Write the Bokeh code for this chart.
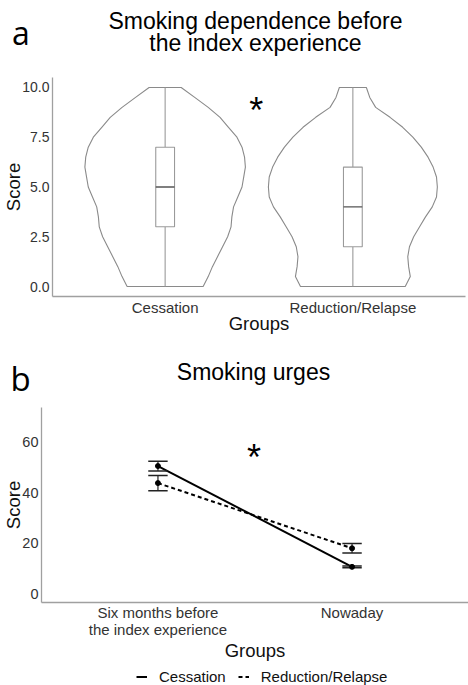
import numpy as np
from bokeh.plotting import figure
from bokeh.models import Range1d, FixedTicker, Legend, LegendItem
from bokeh.core.properties import value
from bokeh.layouts import column
from bokeh.embed import file_html
from bokeh.resources import INLINE

# ---------------- data: panel a ----------------
groups_a = ["Cessation", "Reduction/Relapse"]
violin_levels = [0.0, 0.5, 1.0, 1.5, 2.0, 2.5, 3.0, 3.5, 4.0, 4.5, 5.0,
                 5.5, 6.0, 6.5, 7.0, 7.5, 8.0, 8.5, 9.0, 9.5, 10.0]
dens_cessation = [0.45, 0.51, 0.56, 0.62, 0.68, 0.74, 0.78, 0.79, 0.81, 0.86, 0.91,
                  0.93, 0.95, 0.94, 0.91, 0.85, 0.75, 0.65, 0.51, 0.35, 0.19]
dens_reduction = [0.62, 0.68, 0.66, 0.65, 0.67, 0.72, 0.79, 0.86, 0.94, 0.99, 1.00,
                  0.99, 0.95, 0.89, 0.81, 0.71, 0.59, 0.44, 0.27, 0.20, 0.16]
box_min = [0, 0]
box_q1 = [3, 2]
box_median = [5, 4]
box_q3 = [7, 6]
box_max = [10, 10]
yticks_a = [0, 2.5, 5, 7.5, 10]
title_a = ["Smoking dependence before", "the index experience"]

# ---------------- data: panel b ----------------
times_b = ["Six months before\nthe index experience", "Nowaday"]
series_b = ["Cessation", "Reduction/Relapse"]
cess_mean = [50.4, 10.8]
cess_se = [1.9, 0.35]
red_mean = [43.7, 18.1]
red_se = [3.0, 1.9]
yticks_b = [0, 20, 40, 60]
title_b = "Smoking urges"

FONT = "Liberation Sans"
AXIS_COL = "#a0a0a0"
TICK_COL = "#333333"
W = 468


def style(p):
    p.xgrid.visible = False
    p.ygrid.visible = False
    p.outline_line_color = None
    p.background_fill_color = "white"
    p.border_fill_color = "white"
    for ax in (p.xaxis[0], p.yaxis[0]):
        ax.axis_line_color = AXIS_COL
        ax.axis_line_width = 1.3
        ax.major_tick_line_color = None
        ax.minor_tick_line_color = None
        ax.major_tick_out = 0
        ax.major_tick_in = 0
        ax.major_label_text_font = FONT
        ax.major_label_text_color = TICK_COL
        ax.axis_label_text_font = FONT
        ax.axis_label_text_font_style = "normal"
        ax.axis_label_text_color = "#111111"
        ax.axis_label_text_font_size = "18.5px"


def strip_fig(h, xr, yr):
    # blank strip (no axes) used to hold panel letters, titles and the legend
    t = figure(width=W, height=h, output_backend="svg", toolbar_location=None,
               x_range=xr, y_range=yr, x_axis_location=None, y_axis_location=None,
               min_border=0, min_border_left=0, min_border_right=0,
               min_border_top=0, min_border_bottom=0, frame_align=False)
    t.grid.visible = False
    t.outline_line_color = None
    t.background_fill_color = "white"
    t.border_fill_color = "white"
    return t


# ================= title strip a =================
ta = strip_fig(77, Range1d(0, W), Range1d(77, 0))
ta.text(x=[255, 255], y=[20, 42.5], text=title_a, text_font=value(FONT),
        text_font_size="23px", text_align="center", text_baseline="alphabetic",
        text_color="black")
ta.text(x=[11.5], y=[32], text=["a"], text_font=value("Open Sans"),
        text_font_size="32px", text_align="left", text_baseline="alphabetic",
        text_color="black")

# ================= panel a =================
pa = figure(width=W, height=263, output_backend="svg", toolbar_location=None,
            x_range=Range1d(0.4, 2.6), y_range=Range1d(-0.5, 10.5), frame_align=False,
            min_border_left=52, min_border_right=3, min_border_top=0, min_border_bottom=44)
style(pa)
pa.xaxis.ticker = FixedTicker(ticks=[1, 2])
pa.xaxis.major_label_overrides = {1: groups_a[0], 2: groups_a[1]}
pa.yaxis.ticker = FixedTicker(ticks=yticks_a)
pa.yaxis.major_label_overrides = {v: "%.1f" % v for v in yticks_a}
pa.xaxis.major_label_text_font_size = "15px"
pa.yaxis.major_label_text_font_size = "14px"
pa.yaxis.major_label_standoff = 3
pa.xaxis.major_label_standoff = 2
pa.xaxis.axis_label = "Groups"
pa.xaxis.axis_label_standoff = -6
pa.yaxis.axis_label = "Score"
pa.yaxis.axis_label_standoff = -5

VW = 0.45
BW = 0.05
for i, dens in enumerate([dens_cessation, dens_reduction]):
    c = i + 1
    d = np.array(dens)
    lv = np.array(violin_levels)
    xs = np.concatenate([c - VW * d, (c + VW * d)[::-1]])
    ys = np.concatenate([lv, lv[::-1]])
    pa.patch(xs, ys, fill_color="white", line_color="#8a8a8a", line_width=1.1)
    pa.segment(x0=[c, c], y0=[box_min[i], box_q3[i]], x1=[c, c], y1=[box_q1[i], box_max[i]],
               line_color="#9a9a9a", line_width=1.1)
    pa.quad(left=[c - BW], right=[c + BW], bottom=[box_q1[i]], top=[box_q3[i]],
            fill_color="white", line_color="#9a9a9a", line_width=1.1)
    pa.segment(x0=[c - BW], y0=[box_median[i]], x1=[c + BW], y1=[box_median[i]],
               line_color="#555555", line_width=1.4)

pa.text(x=[1.485], y=[8.85], text=["*"], text_font=value(FONT), text_font_size="36px",
        text_align="center", text_baseline="middle", text_color="black")

# ================= title strip b =================
tb = strip_fig(67, Range1d(0, W), Range1d(67, 0))
tb.text(x=[253], y=[31.7], text=[title_b], text_font=value(FONT),
        text_font_size="23px", text_align="center", text_baseline="alphabetic",
        text_color="black")
tb.text(x=[10], y=[38], text=["b"], text_font=value("Open Sans"),
        text_font_size="33px", text_align="left", text_baseline="alphabetic",
        text_color="black")

# ================= panel b =================
pb = figure(width=W, height=257, output_backend="svg", toolbar_location=None,
            x_range=Range1d(0.4, 2.6), y_range=Range1d(-3.2, 73.4), frame_align=False,
            min_border_left=41, min_border_right=0, min_border_top=0, min_border_bottom=57)
style(pb)
pb.xaxis.ticker = FixedTicker(ticks=[1, 2])
pb.xaxis.major_label_overrides = {1: times_b[0], 2: times_b[1]}
pb.yaxis.ticker = FixedTicker(ticks=yticks_b)
pb.xaxis.major_label_text_font_size = "15px"
pb.yaxis.major_label_text_font_size = "14.5px"
pb.yaxis.major_label_standoff = 3
pb.xaxis.major_label_standoff = 1
pb.xaxis.major_label_text_line_height = 1.05
pb.xaxis.axis_label = "Groups"
pb.xaxis.axis_label_standoff = -1
pb.yaxis.axis_label = "Score"
pb.yaxis.axis_label_standoff = -5

xb = [1, 2]
cm = np.array(cess_mean); cs = np.array(cess_se)
rm = np.array(red_mean); rs = np.array(red_se)
SOLID = dict(line_color="black", line_width=2)
DASHED = dict(line_color="black", line_width=2, line_dash="4 3")
pb.line(xb, cess_mean, **SOLID)
pb.line(xb, red_mean, **DASHED)
CW = 0.05
for m, s in ((cm, cs), (rm, rs)):
    pb.segment(x0=xb, y0=m - s, x1=xb, y1=m + s, line_color="#222222", line_width=1.2)
    pb.segment(x0=np.array(xb) - CW, y0=m - s, x1=np.array(xb) + CW, y1=m - s,
               line_color="#222222", line_width=1.5)
    pb.segment(x0=np.array(xb) - CW, y0=m + s, x1=np.array(xb) + CW, y1=m + s,
               line_color="#222222", line_width=1.5)
    pb.scatter(xb, m, size=5, color="black")

pb.text(x=[1.495], y=[53.8], text=["*"], text_font=value(FONT), text_font_size="36px",
        text_align="center", text_baseline="middle", text_color="black")

# ================= legend strip =================
pl = strip_fig(21, Range1d(0, 1), Range1d(0, 1))
# legend-only renderers (drawn outside the visible range)
lr1 = pl.line(xb, [-5, -5], **SOLID)
lr2 = pl.line(xb, [-5, -5], **DASHED)
legend = Legend(items=[LegendItem(label=series_b[0], renderers=[lr1]),
                       LegendItem(label=series_b[1], renderers=[lr2])],
                orientation="horizontal", location=(136, 0),
                label_text_font=FONT, label_text_font_size="15px", label_text_color="#111111",
                glyph_width=11, glyph_height=17, label_height=17, label_standoff=12, spacing=12,
                padding=2, margin=0, border_line_color=None, background_fill_alpha=0)
pl.add_layout(legend, "center")

layout = column(ta, pa, tb, pb, pl, spacing=0)
open("out.html", "w").write(file_html(layout, INLINE))
